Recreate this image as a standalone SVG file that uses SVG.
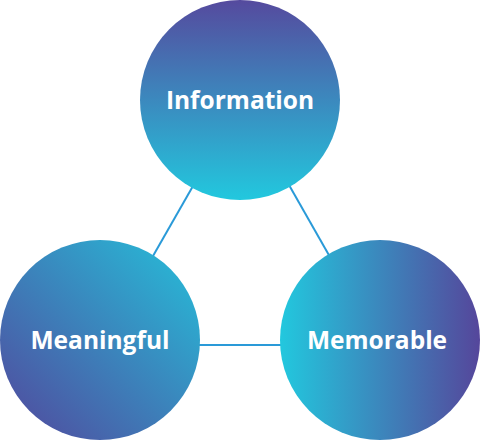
<svg xmlns="http://www.w3.org/2000/svg" width="480" height="440" viewBox="0 0 480 440">
<defs>
<linearGradient id="gInfo" x1="0" y1="0" x2="0" y2="1">
<stop offset="0" stop-color="#554a9e"/>
<stop offset="1" stop-color="#22c8de"/>
</linearGradient>
<linearGradient id="gMean" x1="1" y1="0" x2="0" y2="1">
<stop offset="0" stop-color="#25c0da"/>
<stop offset="1" stop-color="#52469c"/>
</linearGradient>
<linearGradient id="gMem" x1="0" y1="0" x2="1" y2="0">
<stop offset="0" stop-color="#22c8de"/>
<stop offset="1" stop-color="#55469b"/>
</linearGradient>
<style>
.lbl{font-family:"Open Sans","Noto Sans",sans-serif;font-weight:700;font-size:24.5px;fill:#ffffff;text-anchor:middle}
.conn{stroke:#2a9ad8;stroke-width:2;fill:none}
</style>
</defs>
<g id="connectors">
<line class="conn" x1="193" y1="186" x2="153" y2="256"/>
<line class="conn" x1="289" y1="185" x2="330" y2="257"/>
<line class="conn" x1="198" y1="345" x2="282" y2="345"/>
</g>
<g id="information">
<circle cx="240" cy="100" r="100" fill="url(#gInfo)"/>
<text class="lbl" x="240" y="109">Information</text>
</g>
<g id="meaningful">
<circle cx="100" cy="340" r="100" fill="url(#gMean)"/>
<text class="lbl" x="100" y="349">Meaningful</text>
</g>
<g id="memorable">
<circle cx="380" cy="340" r="100" fill="url(#gMem)"/>
<text class="lbl" x="377" y="349">Memorable</text>
</g>
</svg>
